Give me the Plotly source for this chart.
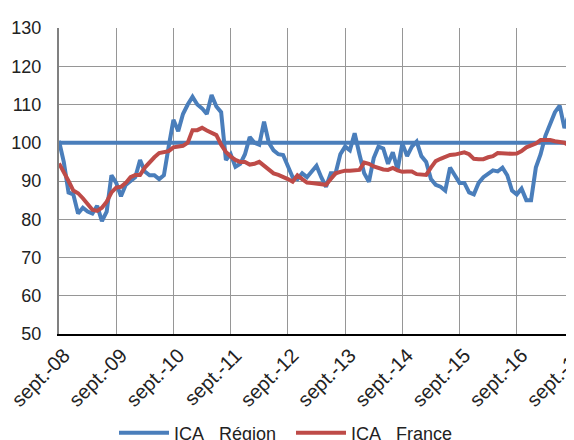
import plotly.graph_objects as go

# --- data -------------------------------------------------------------
MONTH_ABBR = ["janv.", "févr.", "mars", "avr.", "mai", "juin",
              "juil.", "août", "sept.", "oct.", "nov.", "déc."]
START_YEAR, START_MONTH = 2008, 9   # sept.-08
N_MONTHS = 109                      # sept.-08 .. sept.-17

TICK_LABELS = ["sept.-08", "sept.-09", "sept.-10", "sept.-11", "sept.-12",
               "sept.-13", "sept.-14", "sept.-15", "sept.-16", "sept.-17"]

ica_region = [
    100.5, 95, 87, 86.5, 81.5, 83, 82, 81.5, 83.5, 79.5, 82, 91.5,
    89.5, 86, 89, 90, 91, 95.5, 92.5, 91.5, 91.5, 90.5, 91.5, 99,
    106, 103, 107.5, 110, 112, 110, 109, 107.5, 112.5, 109.5, 108, 95.5,
    97, 93.7, 94.5, 97, 101.5, 100, 99.5, 105.5, 100, 98, 97, 96.8,
    94, 91, 90.5, 92, 91, 92.5, 94, 91, 88.5, 92, 92, 97,
    99, 98, 102.5, 97, 92, 89.8, 96, 99, 98.5, 94.5, 97.5, 93,
    99.8, 96.5, 99, 100.3, 96.5, 95, 90.5, 89, 88.5, 87.5, 93.5, 91.5,
    89.5, 89.5, 87, 86.5, 89.5, 91, 92, 92.8, 92.5, 93.5, 91.5, 87.5,
    86.5, 88, 85, 85, 93.5, 97, 101.8, 105, 108, 109.7, 103.8, 107.7,
    100.5,
]

ica_france = [
    94.6, 92.5, 90, 87.5, 86.8, 85.5, 83.8, 82.5, 82.2, 83, 84.6, 87,
    88.3, 88.5, 89.5, 91, 91.6, 91.6, 93.5, 95, 96.2, 97.3, 97.6, 97.8,
    98.8, 99, 99.2, 100, 103.3, 103.3, 103.9, 103.2, 102.5, 102, 99.5, 97.6,
    96.4, 95.5, 95, 95, 94.3, 94.5, 95, 94, 93, 92, 91.6, 91.1,
    90.5, 89.8, 91.5, 90.5, 89.6, 89.5, 89.4, 89.2, 89, 90.5, 92, 92.4,
    92.7, 92.7, 92.9, 92.9, 94.8, 94.5, 93.8, 93.3, 93, 92.9, 93.4, 92.8,
    92.4, 92.5, 92.5, 91.8, 91.6, 91.6, 93.5, 95.2, 95.8, 96.2, 96.8, 96.9,
    97.2, 97.5, 97, 95.8, 95.7, 95.7, 96.2, 96.5, 97.3, 97.2, 97, 97.1,
    97.2, 97.8, 98.8, 99.3, 99.8, 100.7, 100.8, 100.7, 100.4, 100.2, 100, 99.2,
    100.3,
]

BASE = 100
SERIES_NAMES = ["ICA\u00a0\u00a0\u00a0Région", "ICA\u00a0\u00a0\u00a0France"]

# month categories
months = []
y, m = START_YEAR, START_MONTH
for _ in range(N_MONTHS):
    months.append(f"{MONTH_ABBR[m - 1]}-{y % 100:02d}")
    m += 1
    if m > 12:
        m = 1
        y += 1

BLUE = "#4a7ebb"
RED = "#be4b48"
FONT = "Liberation Sans, Arial, sans-serif"
TEXT = "#222222"

fig = go.Figure()
# base 100 reference line
fig.add_trace(go.Scatter(x=[months[0], months[-1]], y=[BASE, BASE], mode="lines",
                         line=dict(color=BLUE, width=4), showlegend=False,
                         hoverinfo="skip"))
fig.add_trace(go.Scatter(x=months, y=ica_region, mode="lines", name=SERIES_NAMES[0],
                         line=dict(color=BLUE, width=4)))
fig.add_trace(go.Scatter(x=months, y=ica_france, mode="lines", name=SERIES_NAMES[1],
                         line=dict(color=RED, width=4)))

fig.update_layout(
    width=566, height=432,
    margin=dict(l=51, r=0, t=20, b=106, autoexpand=False),
    paper_bgcolor="white", plot_bgcolor="white",
    font=dict(family=FONT, size=18, color=TEXT),
    showlegend=True,
    legend=dict(orientation="h", x=0.50, xref="container", xanchor="center",
                y=0.016, yref="container", yanchor="middle",
                font=dict(size=18, color=TEXT), itemwidth=50,
                entrywidth=112, entrywidthmode="pixels",
                bgcolor="rgba(0,0,0,0)"),
)
fig.update_xaxes(
    type="category", categoryorder="array", categoryarray=months,
    range=[0, N_MONTHS - 1],
    tickmode="array", tickvals=TICK_LABELS, ticktext=TICK_LABELS,
    tickangle=-45, tickfont=dict(size=20, color=TEXT), ticklabelshift=5,
    showgrid=True, gridcolor="#969696", gridwidth=1.4,
    showline=True, linecolor="#000000", linewidth=1.5,
    ticks="", automargin=False, zeroline=False,
)
fig.update_yaxes(
    range=[50, 130], dtick=10, tick0=50,
    tickfont=dict(size=18, color=TEXT),
    showgrid=True, gridcolor="#969696", gridwidth=1.4,
    showline=True, linecolor="#808080", linewidth=2,
    ticks="", ticklabelstandoff=12, automargin=False, zeroline=False,
)

fig.write_html("out.html")
